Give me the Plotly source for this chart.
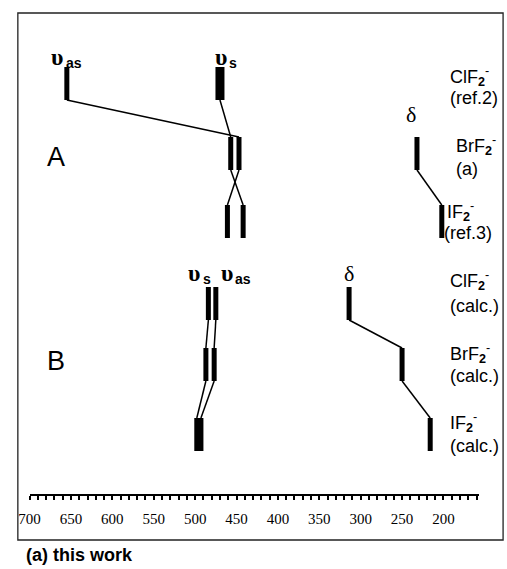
import plotly.graph_objects as go

W, H = 507, 569

# ---------------- data (wavenumbers, cm-1) ----------------
mol_labels = ["ClF<sub><b>2</b></sub><sup>-</sup>", "BrF<sub><b>2</b></sub><sup>-</sup>",
              "IF<sub><b>2</b></sub><sup>-</sup>"]
A_sources = ["(ref.2)", "(a)", "(ref.3)"]
B_sources = ["(calc.)", "(calc.)", "(calc.)"]

# Panel A (experimental)
A_nu_as = [655, 447, 461]
A_nu_s = [470, 457, 442]
A_delta = [None, 232, 202]

# Panel B (calculated)
B_nu_s = [484, 487, 498]
B_nu_as = [475, 477, 493]
B_delta = [314, 250, 216]

tick_vals = [700, 650, 600, 550, 500, 450, 400, 350, 300, 250, 200]
tick_text = [str(v) for v in tick_vals]
footnote = "(a) this work"

# ---------------- layout constants ----------------
A_top = [67, 137, 205]
B_top = [287, 348, 418]
BAR_H = 33
SANS = "Liberation Sans, Arial, sans-serif"
SERIF = "Liberation Serif, Times New Roman, serif"


def px(x):
    return x / W


def bar_xy(vals, tops):
    xs, ys = [], []
    for v, t in zip(vals, tops):
        if v is None:
            continue
        xs += [v, v, None]
        ys += [t, t + BAR_H, None]
    return xs, ys


def link_xy(vals, tops):
    pts = [(v, t) for v, t in zip(vals, tops) if v is not None]
    xs, ys = [], []
    for (v0, t0), (v1, t1) in zip(pts[:-1], pts[1:]):
        xs += [v0, v1, None]
        ys += [t0 + BAR_H, t1, None]
    return xs, ys


fig = go.Figure()

series = [
    (A_nu_as, A_top, [5, 5, 5]),
    (A_nu_s, A_top, [9, 5, 5]),
    (A_delta, A_top, [5, 5, 5]),
    (B_nu_s, B_top, [5, 5, 5]),
    (B_nu_as, B_top, [5, 5, 5]),
    (B_delta, B_top, [5, 5, 5]),
]

for vals, tops, widths in series:
    lx, ly = link_xy(vals, tops)
    fig.add_trace(go.Scatter(x=lx, y=ly, mode="lines",
                             line=dict(color="black", width=1.5),
                             hoverinfo="skip", showlegend=False))
    for v, t, w in zip(vals, tops, widths):
        if v is None:
            continue
        bx, by = bar_xy([v], [t])
        fig.add_trace(go.Scatter(x=bx, y=by, mode="lines",
                                 line=dict(color="black", width=w),
                                 hoverinfo="skip", showlegend=False))

ann = []


def add(text, x, y, size, family=SANS, xanchor="left", color="black"):
    ann.append(dict(text=text, x=px(x), y=y, xref="paper", yref="y",
                    xanchor=xanchor, yanchor="middle", showarrow=False,
                    font=dict(size=size, family=family, color=color)))


# vibration symbols
add("<b>υ</b>", 47, 57, 24, SERIF, "center")
add("<b>as</b>", 54, 63, 14)
add("<b>υ</b>", 215, 57, 24, SERIF, "center")
add("<b>s</b>", 221, 63, 14)
add("δ", 409, 114, 22, SERIF, "center")
add("<b>υ</b>", 187, 273, 24, SERIF, "center")
add("<b>s</b>", 194, 279, 14)
add("<b>υ</b>", 221, 273, 24, SERIF, "center")
add("<b>as</b>", 227, 279, 14)
add("δ", 345, 273, 22, SERIF, "center")

# panel letters
add("A", 46, 157, 27, SANS, "center")
add("B", 46, 361, 27, SANS, "center")

# molecule labels
A_lab_x = [447, 453, 444]
A_lab_y = [76, 145, 211]
A_src_x = [447, 453, 441]
A_src_y = [98, 169, 233]
for i in range(3):
    add(mol_labels[i], A_lab_x[i], A_lab_y[i], 18)
    add(A_sources[i], A_src_x[i], A_src_y[i], 18)

B_lab_y = [280, 353, 422]
B_src_y = [306, 376, 446]
for i in range(3):
    add(mol_labels[i], 447, B_lab_y[i], 18)
    add(B_sources[i], 447, B_src_y[i], 18)

add("<b>" + footnote + "</b>", 13, 555, 18)

fig.update_layout(
    width=W, height=H,
    margin=dict(l=0, r=0, t=0, b=0),
    paper_bgcolor="white", plot_bgcolor="white",
    showlegend=False,
    annotations=ann,
    xaxis=dict(
        domain=[19 / W, 478 / W],
        range=[700, 157.5],
        anchor="free", position=1 - 495 / H,
        showline=True, linewidth=2, linecolor="black",
        showgrid=False, zeroline=False,
        ticks="outside", ticklen=4, tickwidth=1.5, tickcolor="black",
        tickvals=tick_vals, ticktext=tick_text,
        minor=dict(dtick=10, tick0=200, ticks="outside", ticklen=4,
                   tickwidth=1.5, tickcolor="black", showgrid=False),
        tickfont=dict(family=SERIF, size=15, color="black"),
        ticklabelstandoff=6,
        fixedrange=True,
    ),
    yaxis=dict(domain=[0, 1], range=[H, 0], visible=False, fixedrange=True),
    shapes=[dict(type="rect", xref="paper", yref="paper",
                 x0=px(7), x1=px(503), y0=1 - 13 / H, y1=1 - 540 / H,
                 line=dict(color="#222222", width=1.3))],
)

fig.write_html("out.html")
